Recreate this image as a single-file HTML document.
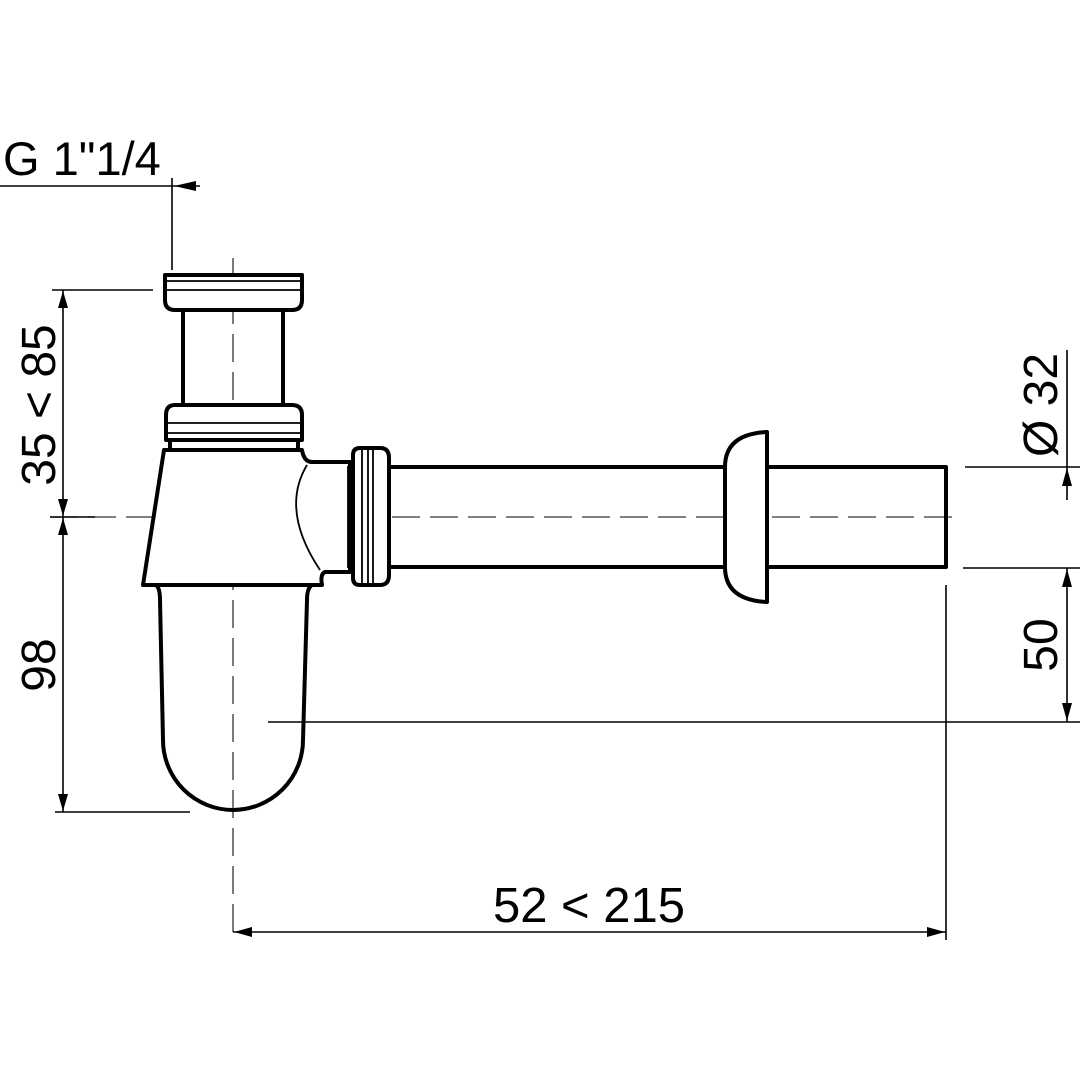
<!DOCTYPE html>
<html><head><meta charset="utf-8"><style>html,body{margin:0;padding:0;background:#fff}svg{display:block}</style></head>
<body>
<svg width="1080" height="1080" viewBox="0 0 1080 1080" xmlns="http://www.w3.org/2000/svg" font-family="Liberation Sans, Arial, sans-serif">
<rect width="1080" height="1080" fill="#fff"/>
<g stroke="#000" fill="none">
<line x1="50" y1="517" x2="960" y2="517" stroke-width="1.3" stroke-dasharray="28,10" stroke="#333"/>
<line x1="233" y1="258" x2="233" y2="935" stroke-width="1.3" stroke-dasharray="28,10" stroke="#333"/>

<g stroke-width="4" stroke-linejoin="round">
<path d="M165 275 H302 V300 Q302 310 292 310 H175 Q165 310 165 300 Z" fill="#fff"/>
<path d="M183 310 V405 M283 310 V405"/>
<path d="M175 405 H292 Q302 405 302 415 V440 H166 V415 Q166 405 175 405 Z" fill="#fff"/>
<path d="M170 440 V450 M298 440 V450"/>
<path d="M164 450 H302 Q304 462 312 462 H350 V572 H325 Q320 574 322 585 H143 Z" fill="#fff"/>
<path d="M353 455 Q353 448 360 448 H380 Q389 448 389 458 V575 Q389 585 380 585 H360 Q353 585 353 578 Z" fill="#fff"/>
<path d="M389 467 H725 M389 567 H725 M767 467 H946 V567 H767"/>
<path d="M767 432 V602 Q725 600 725 567 V467 Q725 434 767 432 Z" fill="#fff"/>
<path d="M156 585 Q160 588 160 600 L163 740 A70 70 0 0 0 303 740 L307 600 Q307 588 312 585"/>
</g>
<g stroke-width="1.8">
<path d="M167 281 H300 M167 290 H300"/>
<path d="M168 423 H300 M168 433 H300"/>
<path d="M307 465 Q280 510 320 570"/>
<path d="M348 466 V568"/>
<path d="M362 450 V584 M368 450 V584 M373 450 V584"/>
</g>
<g stroke-width="1.6">
<line x1="0" y1="186" x2="200" y2="186"/>
<line x1="172" y1="178" x2="172" y2="270"/>
<line x1="52" y1="290" x2="153" y2="290"/>
<line x1="63" y1="290" x2="63" y2="812"/>
<line x1="50" y1="517" x2="95" y2="517"/>
<line x1="55" y1="812" x2="190" y2="812"/>
<line x1="268" y1="722" x2="1080" y2="722"/>
<line x1="946" y1="585" x2="946" y2="940"/>
<line x1="233" y1="932" x2="946" y2="932"/>
<line x1="965" y1="467" x2="1080" y2="467"/>
<line x1="963" y1="568" x2="1080" y2="568"/>
<line x1="1067" y1="350" x2="1067" y2="500"/>
<line x1="1067" y1="568" x2="1067" y2="722"/>
</g>
</g>
<g fill="#000">
<path d="M174 186 L196 181 L196 191 Z"/>
<path d="M63 291 L58 308 L68 308 Z"/>
<path d="M63 516 L58 499 L68 499 Z"/>
<path d="M63 518 L58 535 L68 535 Z"/>
<path d="M63 811 L58 794 L68 794 Z"/>
<path d="M234 932 L252 927 L252 937 Z"/>
<path d="M945 932 L927 927 L927 937 Z"/>
<path d="M1067 468 L1062 486 L1072 486 Z"/>
<path d="M1067 569 L1062 587 L1072 587 Z"/>
<path d="M1067 721 L1062 703 L1072 703 Z"/>
</g>
<g fill="#000" font-size="48">
<text x="3" y="175" font-size="47">G 1"1/4</text>
<text x="589" y="922" text-anchor="middle" font-size="49">52 &lt; 215</text>
<text transform="translate(55,405) rotate(-90)" text-anchor="middle">35 &lt; 85</text>
<text transform="translate(55,665) rotate(-90)" text-anchor="middle">98</text>
<text transform="translate(1057,645) rotate(-90)" text-anchor="middle">50</text>
<text transform="translate(1057,405) rotate(-90)" text-anchor="middle">Ø 32</text>
</g>
</svg>
</body></html>
